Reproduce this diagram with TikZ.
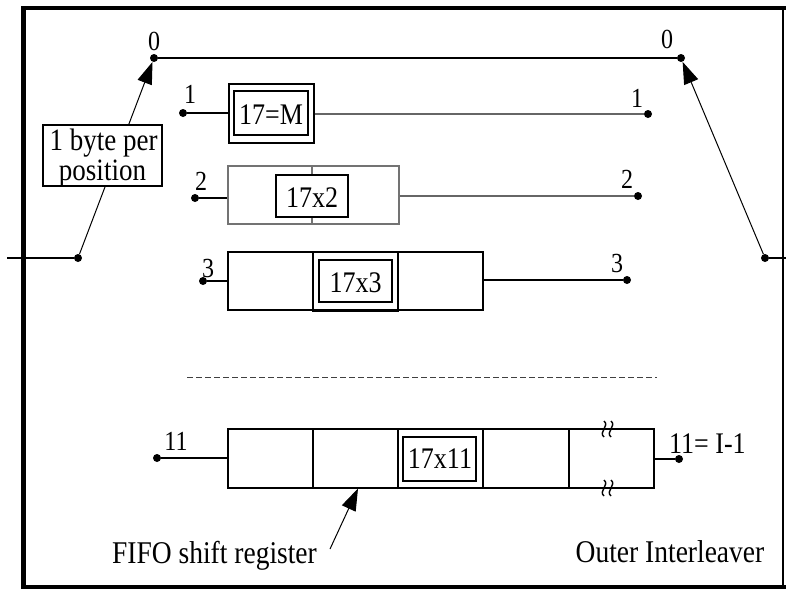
\documentclass[tikz,border=0pt]{standalone}
\usepackage{fontspec}
\setmainfont{Liberation Serif}
\usepackage{graphicx}
\usetikzlibrary{arrows.meta}
\newcommand\vst[1]{\scalebox{1}[1.15]{#1}}
\begin{document}
\begin{tikzpicture}[x=1pt,y=-1pt,
  dot/.style={circle,fill=black,inner sep=0pt,minimum size=8pt},
  lbl/.style={inner sep=0pt,anchor=base,font=\fontsize{24}{26}\selectfont},
  txt/.style={inner sep=0pt,anchor=base,font=\fontsize{26}{30}\selectfont},
  bigtxt/.style={inner sep=0pt,anchor=base,font=\fontsize{27.5}{30}\selectfont},
  wire/.style={line width=1.1pt},
  graywire/.style={line width=1.1pt,draw=black!60},
  cellbox/.style={draw,line width=1.1pt,inner sep=0pt},
  arr/.style={line width=1pt,-{Triangle[length=22pt,width=15pt]}},
]
\useasboundingbox (0,0) rectangle (786,590);
% frame
\draw[line width=4.5pt] (21.5,8) -- (786,8);
\draw[line width=4.5pt] (23.5,6) -- (23.5,589);
\draw[line width=4pt] (21.5,587) -- (786,587);
\draw[line width=2pt] (783,8) -- (783,587);

% commutators
\node[dot] (pin) at (78,258) {};
\coordinate (inL) at (7,258);
\node[dot] (p0l) at (154,58) {};
\node[dot] (p0r) at (681,58) {};
\node[dot] (pout) at (765,258) {};
\coordinate (outR) at (786,258);
\draw[wire] (inL) -- (pin);
\draw[wire] (pout) -- (outR);
\draw[wire] (p0l) -- (p0r);
\draw[arr] (pin) -- (p0l);
\draw[arr] (pout) -- (p0r);
\node[lbl] (n0l) at (154,50) {\vst{0}};
\node[lbl] (n0r) at (667,48) {\vst{0}};

% 1 byte per position
\node[draw,fill=white,line width=1.1pt,minimum width=119pt,minimum height=61pt,inner sep=0pt] (bpp) at (102.5,155.5) {};
\node[bigtxt,font=\fontsize{27}{30}\selectfont] (bpp1) at (103.5,150) {\vst{1 byte per}};
\node[bigtxt,font=\fontsize{27}{30}\selectfont] (bpp2) at (102.5,180) {\vst{position}};

% row 1
\node[dot] (d1l) at (183,113) {};
\node[lbl] (n1l) at (190,103) {\vst{1}};
\node[cellbox,minimum width=85pt,minimum height=59pt] (r1) at (271.5,113.5) {};
\node[cellbox,minimum width=74pt,minimum height=44pt] (r1i) at (271,113) {};
\node[txt] (t1) at (271,124) {\vst{17=M}};
\node[dot] (d1r) at (648,114) {};
\node[lbl] (n1r) at (637,107) {\vst{1}};
\draw[wire] (d1l) -- (d1l -| r1.west);
\draw[graywire] (r1.east |- d1r) -- (d1r);

% row 2
\node[dot] (d2l) at (195,198) {};
\node[lbl] (n2l) at (201,190) {\vst{2}};
\node[cellbox,draw=black!55,minimum width=171pt,minimum height=58pt] (r2) at (313.5,195) {};
\draw[line width=1.1pt,black!55] (312,166) -- (312,224);
\node[cellbox,fill=white,minimum width=72pt,minimum height=42pt] (r2i) at (312,196) {};
\node[txt] (t2) at (312,207) {\vst{17x2}};
\node[dot] (d2r) at (638,196) {};
\node[lbl] (n2r) at (627,188) {\vst{2}};
\draw[wire] (d2l) -- (d2l -| r2.west);
\draw[graywire] (r2.east |- d2r) -- (d2r);

% row 3
\node[dot] (d3l) at (203,281) {};
\node[lbl] (n3l) at (208,277) {\vst{3}};
\node[cellbox,minimum width=255pt,minimum height=58pt] (r3) at (355.5,281) {};
\node[cellbox,minimum width=85pt,minimum height=59pt] (r3c) at (355.5,281.5) {};
\node[cellbox,minimum width=73pt,minimum height=42pt] (r3i) at (355.5,281) {};
\node[txt] (t3) at (355.5,292) {\vst{17x3}};
\node[dot] (d3r) at (627,280) {};
\node[lbl] (n3r) at (617,272) {\vst{3}};
\draw[wire] (d3l) -- (d3l -| r3.west);
\draw[wire] (r3.east |- d3r) -- (d3r);

% dashed separator
\coordinate (dsA) at (187,377);
\coordinate (dsB) at (657,377);
\draw[line width=0.9pt,black!75,dash pattern=on 6pt off 3pt] (dsA) -- (dsB);

% row 11
\node[dot] (d11l) at (157,458) {};
\node[lbl] (n11l) at (176,450) {\vst{11}};
\node[cellbox,minimum width=426pt,minimum height=59pt] (r11) at (441,458.5) {};
\draw[line width=1.1pt] (313,429) -- (313,488);
\draw[line width=1.1pt] (398,429) -- (398,488);
\draw[line width=1.1pt] (483,429) -- (483,488);
\draw[line width=2.2pt] (569,429) -- (569,488);
\node[cellbox,minimum width=73pt,minimum height=44pt] (r11i) at (439.5,459) {};
\node[txt] (t11) at (440,468) {\vst{17x11}};
\node[dot] (d11r) at (679,459) {};
\draw[wire] (d11l) -- (d11l -| r11.west);
\draw[wire] (r11.east |- d11r) -- (d11r);
\node[txt,anchor=base west] (n11r) at (669,453) {\vst{11= I-1}};
\foreach \yc in {429,488} {
  \foreach \xc in {604,611} {
    \draw[line width=1.4pt] ({\xc},{\yc-8}) .. controls ({\xc+6},{\yc-3}) and ({\xc-6},{\yc+3}) .. ({\xc},{\yc+8});
  }
}

% captions
\coordinate (fa) at (330,549);
\coordinate (fb) at (358,488.5);
\draw[arr] (fa) -- (fb);
\node[bigtxt] (fifo) at (214.5,563) {\vst{FIFO shift register}};
\node[bigtxt] (outer) at (670,562) {\vst{Outer Interleaver}};
\end{tikzpicture}
\end{document}
